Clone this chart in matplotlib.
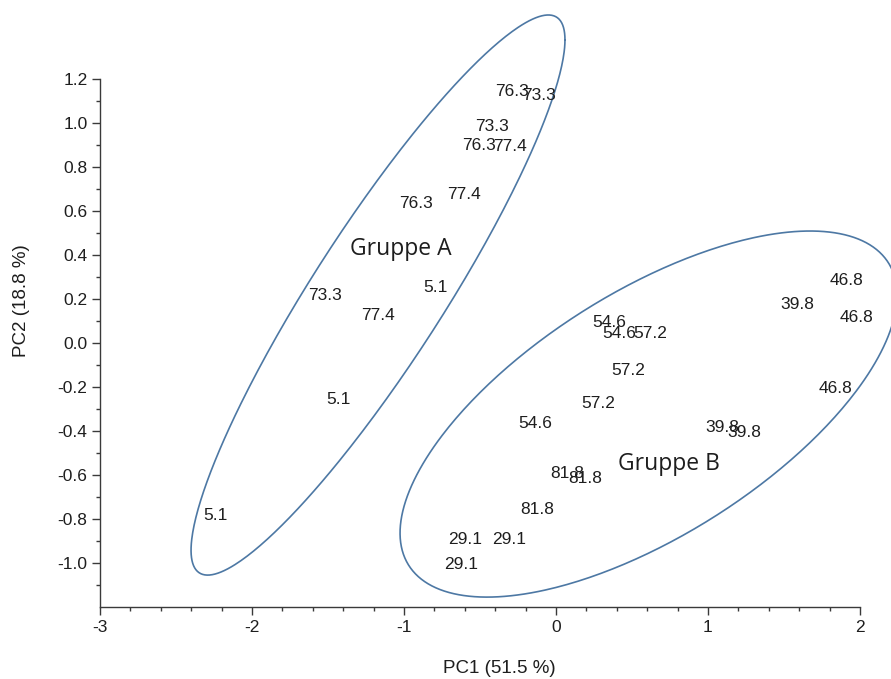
import numpy as np
import matplotlib.pyplot as plt
from matplotlib.ticker import MultipleLocator, FuncFormatter

plt.rcParams['font.family'] = ['Liberation Sans', 'DejaVu Sans']
plt.rcParams['axes.unicode_minus'] = False

# PCA scores, group A
labels_a = ['76.3', '73.3', '73.3', '76.3', '77.4', '77.4',
            '76.3', '73.3', '77.4', '5.1', '5.1', '5.1']
pc1_a = [-0.289, -0.112, -0.421, -0.507, -0.303, -0.605,
         -0.921, -1.520, -1.171, -0.796, -1.434, -2.237]
pc2_a = [1.141, 1.127, 0.986, 0.900, 0.891, 0.673,
         0.632, 0.218, 0.123, 0.250, -0.255, -0.786]

# PCA scores, group B
labels_b = ['46.8', '39.8', '46.8', '54.6', '54.6', '57.2', '57.2', '46.8', '57.2',
            '54.6', '39.8', '39.8', '81.8', '81.8', '81.8', '29.1', '29.1', '29.1']
pc1_b = [1.914, 1.586, 1.974, 0.349, 0.414, 0.618, 0.474, 1.842, 0.276,
         -0.138, 1.092, 1.237, 0.072, 0.191, -0.125, -0.599, -0.309, -0.625]
pc2_b = [0.286, 0.177, 0.114, 0.091, 0.045, 0.045, -0.123, -0.205, -0.277,
         -0.364, -0.382, -0.405, -0.591, -0.618, -0.759, -0.891, -0.891, -1.009]

# group ellipses: centre x, centre y, half extent x, half extent y, correlation
ell_a = [-1.171, 0.218, 1.230, 1.273, 0.911]
ell_b = [0.609, -0.323, 1.635, 0.832, 0.65]

group_names = ['Gruppe A', 'Gruppe B']
group_pos = [(-1.020, 0.427), (0.743, -0.550)]

txt_col = '#1e1e1e'
line_col = '#4d78a4'


def ellipse_xy(cx, cy, sx, sy, rho, n=400):
    t = np.linspace(0, 2 * np.pi, n)
    x = cx + sx * np.cos(t)
    y = cy + sy * np.cos(t - np.arccos(rho))
    return x, y


def one_decimal(v, pos):
    # avoid "-0.0" from float rounding
    return '%.1f' % (round(v, 1) + 0.0)


fig = plt.figure(figsize=(8.91, 6.79), dpi=100)
ax = fig.add_axes([100 / 891, 72 / 679, 760 / 891, 528 / 679])

for lab, x, y in zip(labels_a + labels_b, pc1_a + pc1_b, pc2_a + pc2_b):
    ax.text(x, y, lab, ha='center', va='center', fontsize=12.5, color=txt_col)

for e in (ell_a, ell_b):
    ex, ey = ellipse_xy(*e)
    ax.plot(ex, ey, color=line_col, lw=1.2, clip_on=False)

for name, (gx, gy) in zip(group_names, group_pos):
    ax.text(gx, gy, name, ha='center', va='center', fontsize=16.5,
            family='Open Sans', color=txt_col)

ax.set_xlim(-3, 2)
ax.set_ylim(-1.2, 1.2)
ax.set_xticks([-3, -2, -1, 0, 1, 2])
ax.xaxis.set_minor_locator(MultipleLocator(0.2))
ax.set_yticks(np.arange(-1.0, 1.21, 0.2))
ax.set_yticks(np.arange(-1.1, 1.15, 0.2), minor=True)
ax.yaxis.set_major_formatter(FuncFormatter(one_decimal))

for s in ['top', 'right']:
    ax.spines[s].set_visible(False)
for s in ['left', 'bottom']:
    ax.spines[s].set_color('#3a3a3a')
    ax.spines[s].set_linewidth(1.0)

ax.tick_params(which='major', direction='out', length=6, width=1.0,
               color='#3a3a3a', labelsize=12.5, labelcolor=txt_col, pad=3)
ax.tick_params(which='minor', direction='out', length=3, width=1.0, color='#3a3a3a')

ax.set_xlabel('PC1 (51.5 %)', fontsize=13.5, color=txt_col)
ax.set_ylabel('PC2 (18.8 %)', fontsize=13.5, color=txt_col)
ax.xaxis.set_label_coords(0.525, -0.1)
ax.yaxis.set_label_coords(-0.092, 0.58)

plt.savefig('out.png', dpi=100)
